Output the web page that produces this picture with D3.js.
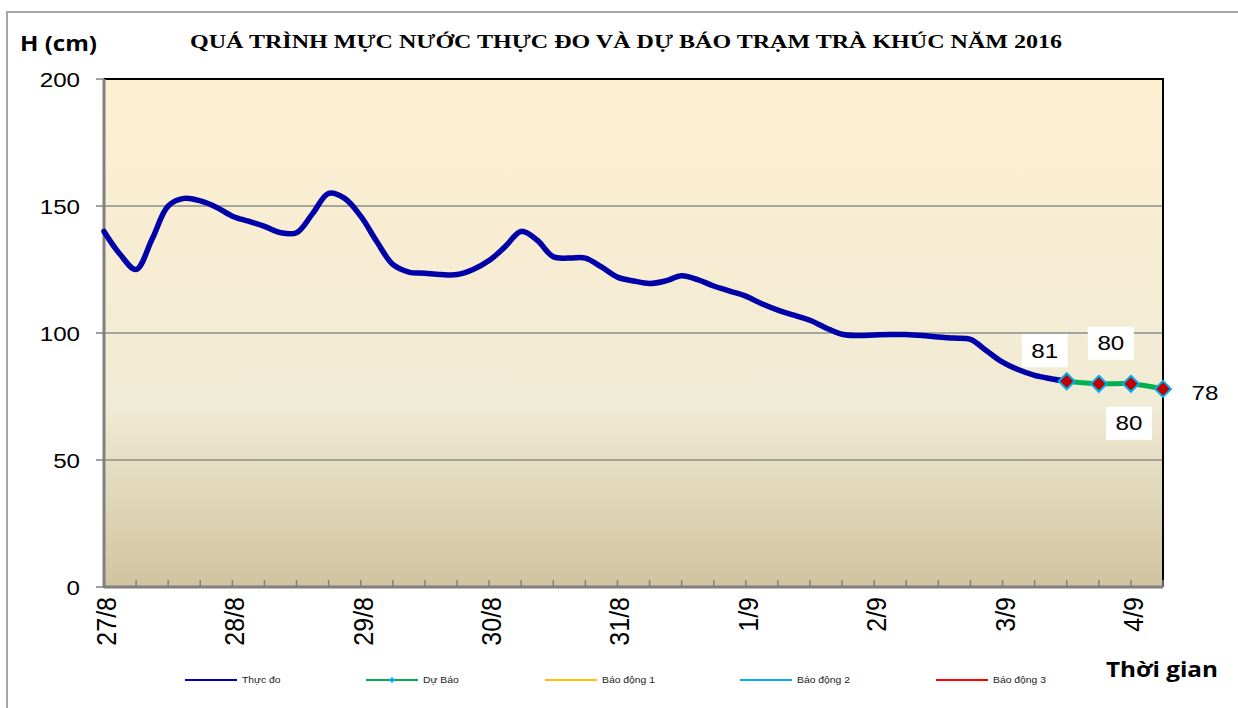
<!DOCTYPE html>
<html>
<head>
<meta charset="utf-8">
<script src="https://cdn.jsdelivr.net/npm/d3@7"></script>
<style>
  body { margin: 0; background: #fff; }
  svg { display: block; }
</style>
</head>
<body>
<svg id="chart" width="1238" height="708"></svg>
<script>
// muc nuoc thuc do, 3 gio/lan, tu 0h 27/8 (cm)
var measuredHours = d3.range(0, 181, 3);
var measured = [
  140, 131, 125, 137, 150, 153, 152, 149.5, 146, 144,
  142, 139.5, 139.5, 147, 155, 153, 146, 136, 127, 124,
  123.5, 123, 123, 125, 128.5, 134, 140, 136.5, 130, 129.5,
  129.5, 126, 122, 120.5, 119.5, 120.5, 122.5, 121, 118.5, 116.5,
  114.5, 111.5, 109, 107, 105, 102, 99.5, 99, 99.2, 99.4,
  99.4, 99, 98.4, 98, 97.5, 93, 88.5, 85.5, 83.3, 82,
  81
];
// du bao, 6 gio/lan
var forecastHours = [180, 186, 192, 198];
var forecast = [81, 80, 80, 78];

var dayLabels = ['27/8', '28/8', '29/8', '30/8', '31/8', '1/9', '2/9', '3/9', '4/9'];
var yTicks = [0, 50, 100, 150, 200];
var legendNames = ['Thực đo', 'Dự Báo', 'Báo động 1', 'Báo động 2', 'Báo động 3'];
var legendColors = ['#0000c0', '#00b050', '#ffc000', '#00b0f0', '#ff0000'];

var svg = d3.select('#chart');
var pLeft = 104, pRight = 1163, pTop = 79, pBottom = 587;
var sx = 1.15; // chu trong anh goc bi gian ngang

// khung ngoai
svg.append('rect')
    .attr('x', 7).attr('y', 12)
    .attr('width', 1300).attr('height', 800)
    .attr('fill', '#fff')
    .attr('stroke', '#a6a6a6').attr('stroke-width', 2);

var x = d3.scaleLinear().domain([0, 198]).range([pLeft, pRight]);
var y = d3.scaleLinear().domain([0, 200]).range([pBottom, pTop]);

// nen kieu parchment
var grad = svg.append('defs').append('linearGradient')
    .attr('id', 'bg').attr('x1', 0).attr('y1', 0).attr('x2', 0).attr('y2', 1);
grad.append('stop').attr('offset', '0%').attr('stop-color', '#ffefd1');
grad.append('stop').attr('offset', '64%').attr('stop-color', '#f0ebd5');
grad.append('stop').attr('offset', '100%').attr('stop-color', '#d1c39f');

svg.append('rect')
    .attr('x', pLeft).attr('y', pTop)
    .attr('width', pRight - pLeft).attr('height', pBottom - pTop)
    .attr('fill', 'url(#bg)');

// luoi ngang
svg.append('g').selectAll('line')
    .data(yTicks.filter(function(d) { return d > 0 && d < 200; }))
    .join('line')
    .attr('x1', pLeft).attr('x2', pRight)
    .attr('y1', function(d) { return y(d); }).attr('y2', function(d) { return y(d); })
    .attr('stroke', '#8c8c8c').attr('stroke-width', 1.5);

// vien tren, phai
svg.append('path')
    .attr('d', 'M' + pLeft + ',' + pTop + 'H' + pRight + 'V' + pBottom)
    .attr('fill', 'none').attr('stroke', '#000').attr('stroke-width', 2);

// truc y
svg.append('line')
    .attr('x1', pLeft).attr('x2', pLeft).attr('y1', pTop).attr('y2', pBottom + 1)
    .attr('stroke', '#808080').attr('stroke-width', 3);
svg.append('g').selectAll('line')
    .data(yTicks).join('line')
    .attr('x1', pLeft - 8).attr('x2', pLeft)
    .attr('y1', function(d) { return y(d); }).attr('y2', function(d) { return y(d); })
    .attr('stroke', '#808080').attr('stroke-width', 1.5);

function stretchText(sel, px, py) {
    return sel.attr('transform', 'translate(' + px + ',' + py + ') scale(' + sx + ',1)');
}

svg.append('g').selectAll('text')
    .data(yTicks).join('text')
    .each(function(d) { stretchText(d3.select(this), 80, y(d) + 7.5); })
    .attr('text-anchor', 'end')
    .attr('font-family', 'Liberation Sans, Arial, sans-serif')
    .attr('font-size', 21)
    .attr('fill', '#000')
    .text(function(d) { return d; });

// truc x
svg.append('line')
    .attr('x1', pLeft).attr('x2', pRight).attr('y1', pBottom).attr('y2', pBottom)
    .attr('stroke', '#808080').attr('stroke-width', 3);
svg.append('g').selectAll('line')
    .data(d3.range(0, 199, 6)).join('line')
    .attr('x1', function(d) { return x(d); }).attr('x2', function(d) { return x(d); })
    .attr('y1', pBottom - 7).attr('y2', pBottom)
    .attr('stroke', '#808080').attr('stroke-width', 1.5);

svg.append('g').selectAll('text')
    .data(dayLabels).join('text')
    .attr('transform', function(d, i) {
        return 'translate(' + (x(i * 24) + 12) + ',' + (pBottom + 10) + ') scale(1.1,1) rotate(-90)';
    })
    .attr('text-anchor', 'end')
    .attr('font-family', 'Liberation Sans, Arial, sans-serif')
    .attr('font-size', 25)
    .attr('fill', '#000')
    .text(function(d) { return d; });

// duong thuc do
var line = d3.line()
    .x(function(d) { return x(d[0]); })
    .y(function(d) { return y(d[1]); })
    .curve(d3.curveCatmullRom);

svg.append('path')
    .datum(d3.zip(measuredHours, measured))
    .attr('d', line)
    .attr('fill', 'none')
    .attr('stroke', '#0000a8').attr('stroke-width', 5.5)
    .attr('stroke-linejoin', 'round').attr('stroke-linecap', 'round');

// duong du bao
var fc = d3.zip(forecastHours, forecast);
svg.append('path')
    .datum(fc)
    .attr('d', line)
    .attr('fill', 'none')
    .attr('stroke', '#00b050').attr('stroke-width', 5);

svg.append('g').selectAll('path')
    .data(fc).join('path')
    .attr('transform', function(d) { return 'translate(' + x(d[0]) + ',' + y(d[1]) + ')'; })
    .attr('d', 'M0,-8L8,0L0,8L-8,0Z')
    .attr('fill', '#c00000')
    .attr('stroke', '#00b0f0').attr('stroke-width', 2);

// nhan so du bao: vi tri dat nhan (dx, dy) tinh tu diem
var labelOffsets = [[-22, -31], [12, -41], [-2, 39], [42, 4]];
var lbl = svg.append('g').selectAll('g')
    .data(fc).join('g')
    .attr('transform', function(d, i) {
        return 'translate(' + (x(d[0]) + labelOffsets[i][0]) + ',' + (y(d[1]) + labelOffsets[i][1]) + ')';
    });
lbl.append('rect')
    .attr('x', -23).attr('y', -16).attr('width', 46).attr('height', 33)
    .attr('fill', '#fff');
lbl.append('text')
    .attr('transform', 'scale(' + sx + ',1)')
    .attr('text-anchor', 'middle')
    .attr('dy', 7.5)
    .attr('font-family', 'Liberation Sans, Arial, sans-serif')
    .attr('font-size', 21)
    .attr('fill', '#000')
    .text(function(d) { return d[1]; });

// tieu de
svg.append('text')
    .attr('x', 190).attr('y', 48)
    .attr('textLength', 872).attr('lengthAdjust', 'spacingAndGlyphs')
    .attr('font-family', 'Liberation Serif, Times New Roman, serif')
    .attr('font-weight', 'bold')
    .attr('font-size', 19)
    .attr('fill', '#000')
    .text('QUÁ TRÌNH MỰC NƯỚC THỰC ĐO VÀ DỰ BÁO TRẠM TRÀ KHÚC NĂM 2016');

svg.append('text')
    .attr('x', 20).attr('y', 51)
    .attr('textLength', 77).attr('lengthAdjust', 'spacingAndGlyphs')
    .attr('font-family', 'Open Sans, sans-serif')
    .attr('font-weight', 'bold')
    .attr('font-size', 21)
    .attr('fill', '#000')
    .text('H (cm)');

svg.append('text')
    .attr('x', 1106).attr('y', 677)
    .attr('textLength', 112).attr('lengthAdjust', 'spacingAndGlyphs')
    .attr('font-family', 'Open Sans, sans-serif')
    .attr('font-weight', 'bold')
    .attr('font-size', 22)
    .attr('fill', '#000')
    .text('Thời gian');

// chu giai
var legendX = [185, 366, 545, 740, 936];
var lg = svg.append('g').selectAll('g')
    .data(legendNames).join('g')
    .attr('transform', function(d, i) { return 'translate(' + legendX[i] + ',680)'; });
lg.append('line')
    .attr('x1', 0).attr('x2', 52)
    .attr('stroke', function(d, i) { return legendColors[i]; })
    .attr('stroke-width', 2);
lg.filter(function(d, i) { return i === 1; }).append('path')
    .attr('d', 'M26,-3L29,0L26,3L23,0Z')
    .attr('fill', '#00b0f0');
lg.append('text')
    .attr('transform', 'translate(57,3) scale(' + sx + ',1)')
    .attr('font-family', 'Liberation Sans, Arial, sans-serif')
    .attr('font-size', 9)
    .attr('fill', '#222')
    .text(function(d) { return d; });
</script>
</body>
</html>
